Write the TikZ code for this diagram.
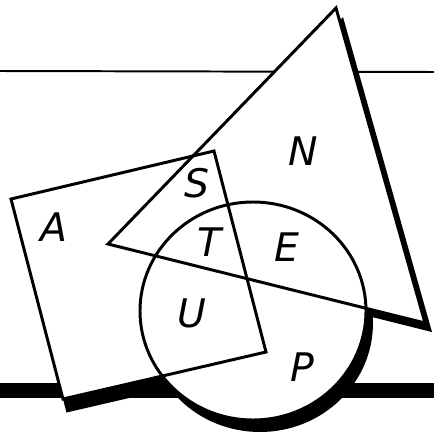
\documentclass[tikz,border=0pt]{standalone}
\usepackage{fontspec}
\setsansfont{DejaVu Sans}
\usepackage{tikz}
\usetikzlibrary{positioning, calc}
\definecolor{myink}{RGB}{0,0,0}
\definecolor{mypaper}{RGB}{255,255,255}
\tikzset{
  outline/.style={draw=myink, line width=2.1pt, line join=miter},
  paper/.style={fill=mypaper},
  shade/.style={fill=myink},
  rule/.style={draw=myink, line width=1.4pt},
  letter/.style={font=\fontsize{28}{28}\selectfont\sffamily\itshape,
    inner sep=0pt, color=myink}
}
\begin{document}
\begin{tikzpicture}[x=0.025cm, y=-0.025cm]
  \useasboundingbox (0,0) rectangle (434,434);
  % Corners of the three shapes
  \coordinate (t1) at (336,8);
  \coordinate (t2) at (108,244);
  \coordinate (t3) at (425,323);
  \coordinate (r1) at (11,199);
  \coordinate (r2) at (214,151);
  \coordinate (r3) at (266,352);
  \coordinate (r4) at (63,399);
  \coordinate (cc) at (253,311);

  % Page rules behind everything
  \draw[rule] (0,71) -- (434,72);
  \fill[shade] (0,383) rectangle (434,398);

  % Shadows
  \fill[shade] ([shift={(7,9)}]t1) -- ([shift={(7,9)}]t2)
    -- ([shift={(7,9)}]t3) -- cycle;
  \fill[shade] ([shift={(3.5,13.5)}]r1) -- ([shift={(3.5,13.5)}]r2)
    -- ([shift={(3.5,13.5)}]r3) -- ([shift={(3.5,13.5)}]r4) -- cycle;
  \fill[shade] ([shift={(7,12)}]cc) ellipse (113 and 109);

  % White faces
  \fill[paper] (t1) -- (t2) -- (t3) -- cycle;
  \fill[paper] (r1) -- (r2) -- (r3) -- (r4) -- cycle;
  \fill[paper] (cc) ellipse (113 and 109);

  % Outlines
  \draw[outline] (t1) -- (t2) -- (t3) -- cycle;
  \draw[outline] (r1) -- (r2) -- (r3) -- (r4) -- cycle;
  \draw[outline] (cc) ellipse (113 and 109);

  % Letters
  \node[letter] (n) at (303,151) {N};
  \node[letter] (s) at (197,183) {S};
  \node[letter] (a) at (54,227) {A};
  \node[letter] (t) at (210,242) {T};
  \node[letter] (e) at (287,247) {E};
  \node[letter] (u) at (192,313) {U};
  \node[letter] (p) at (302,367) {P};
\end{tikzpicture}
\end{document}
